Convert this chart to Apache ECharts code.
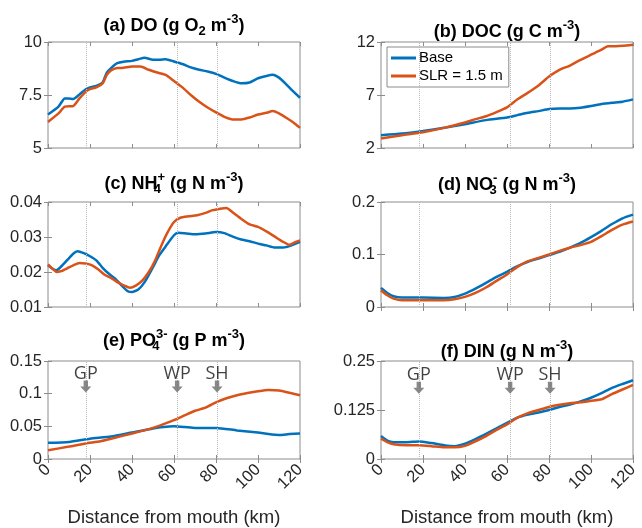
<!DOCTYPE html>
<html>
<head>
<meta charset="utf-8">
<script src="https://cdn.jsdelivr.net/npm/echarts@6/dist/echarts.min.js"></script>
<style>html,body{margin:0;padding:0;background:#fff}#c{width:642px;height:528px}</style>
</head>
<body>
<div id="c"></div>
<script>
// ---------- DATA ----------
const xTicks = [0, 20, 40, 60, 80, 100, 120];
const stationNames = ['GP', 'WP', 'SH'];
const stationKm = [18, 61.5, 80.5];

const doBaseX = [0,5,8,10,12,15,18,20,23,26,28,30,33,36,40,43,46,50,53,56,60,64,68,72,76,80,84,88,92,96,100,104,107,110,113,116,120];
const doBase  = [6.58,6.95,7.34,7.33,7.31,7.53,7.77,7.86,7.93,8.09,8.56,8.77,9.0,9.07,9.11,9.19,9.26,9.16,9.16,9.19,9.08,8.96,8.80,8.69,8.61,8.50,8.32,8.16,8.05,8.09,8.29,8.40,8.45,8.32,8.05,7.74,7.37];
const doSlrX  = [0,5,8,12,15,18,20,23,26,28,30,33,36,40,44,48,52,56,60,64,68,72,76,80,84,88,92,96,100,104,107,110,114,117,120];
const doSlr   = [6.23,6.63,6.95,6.98,7.34,7.66,7.78,7.86,8.05,8.45,8.66,8.77,8.78,8.84,8.84,8.69,8.56,8.45,8.16,7.86,7.5,7.18,6.91,6.68,6.47,6.35,6.35,6.44,6.58,6.66,6.74,6.63,6.39,6.19,5.95];

const docBaseX = [0,10,20,30,40,50,60,65,70,75,80,85,90,95,100,105,110,115,120];
const docBase  = [3.2,3.36,3.61,3.9,4.25,4.63,4.88,5.1,5.32,5.48,5.67,5.73,5.73,5.8,5.96,6.15,6.27,6.37,6.59];
const docSlrX  = [0,10,20,30,40,45,50,55,60,65,70,75,80,85,90,95,100,105,108,110,115,120];
const docSlr   = [2.89,3.2,3.49,3.9,4.41,4.72,5.0,5.39,5.83,6.59,7.22,7.89,8.74,9.37,9.78,10.32,10.8,11.27,11.59,11.59,11.65,11.75];

const nh4BaseX = [0,2,4,6,9,12,14,17,20,23,26,29,32,35,38,40,43,46,50,53,56,60,62,66,70,75,80,84,88,92,96,100,104,108,112,116,120];
const nh4Base  = [0.0219,0.0210,0.0205,0.0214,0.0233,0.0252,0.0259,0.0254,0.0245,0.0233,0.0212,0.0195,0.0181,0.0162,0.0145,0.0143,0.0150,0.0171,0.0214,0.0248,0.0273,0.0305,0.0312,0.0310,0.0308,0.0310,0.0314,0.0311,0.0301,0.0293,0.0288,0.0281,0.0276,0.0270,0.0270,0.0276,0.0286];
const nh4SlrX  = [0,2,4,6,9,12,15,18,21,24,27,30,33,36,39,42,45,48,51,54,57,60,63,67,71,75,78,82,85,88,92,96,100,104,108,112,115,118,120];
const nh4Slr   = [0.0222,0.0210,0.0200,0.0202,0.0210,0.0219,0.0226,0.0224,0.0219,0.0207,0.0192,0.0183,0.0171,0.0162,0.0155,0.0162,0.0176,0.0200,0.0233,0.0276,0.0314,0.0343,0.0355,0.0359,0.0362,0.0369,0.0376,0.0381,0.0383,0.0370,0.0352,0.0336,0.0329,0.0316,0.0301,0.0286,0.0278,0.0286,0.0290];

const no3X    = [0,3,6,10,20,30,35,40,45,50,55,60,65,70,75,80,85,90,95,100,105,110,115,120];
const no3Base = [0.0364,0.0268,0.0204,0.0179,0.0179,0.0173,0.0192,0.0256,0.0351,0.046,0.0575,0.067,0.0777,0.086,0.0923,0.0987,0.105,0.113,0.122,0.133,0.145,0.158,0.169,0.176];
const no3Slr  = [0.032,0.0224,0.016,0.0128,0.0128,0.0128,0.0147,0.0192,0.0268,0.0371,0.0498,0.062,0.0764,0.0872,0.0936,0.1,0.107,0.113,0.118,0.124,0.135,0.147,0.157,0.163];

const po4BaseX = [0,10,20,30,40,50,55,60,65,70,80,90,100,105,110,115,120];
const po4Base  = [0.0248,0.0262,0.031,0.0343,0.0405,0.0467,0.049,0.05,0.049,0.0476,0.0476,0.0438,0.0405,0.0381,0.0367,0.0381,0.039];
const po4SlrX  = [0,10,18,25,30,40,50,55,60,65,70,75,80,85,90,95,100,105,110,115,120];
const po4Slr   = [0.0133,0.019,0.0238,0.0271,0.031,0.039,0.0476,0.0533,0.0595,0.0667,0.0738,0.0786,0.0867,0.0929,0.0976,0.101,0.1038,0.1057,0.1048,0.1014,0.0976];

const dinX    = [0,3,6,12,18,24,30,35,40,45,50,55,60,65,70,75,80,85,90,95,100,105,110,115,120];
const dinBase = [0.0586,0.0469,0.043,0.043,0.0445,0.0406,0.0352,0.0328,0.039,0.0508,0.0641,0.0781,0.0922,0.1055,0.1133,0.1188,0.125,0.1328,0.139,0.1469,0.1563,0.168,0.1813,0.1914,0.2008];
const dinSlr  = [0.0523,0.043,0.0375,0.0352,0.0352,0.0328,0.0297,0.0297,0.0336,0.0453,0.0586,0.0742,0.0883,0.1055,0.1172,0.125,0.1328,0.1383,0.1422,0.1445,0.1484,0.1523,0.1656,0.1773,0.1891];

// y-axis ranges [min, max, interval]
const yDO  = [5, 10, 2.5];
const yDOC = [2, 12, 5];
const yNH4 = [0.01, 0.04, 0.01];
const yNO3 = [0, 0.2, 0.1];
const yPO4 = [0, 0.15, 0.05];
const yDIN = [0, 0.25, 0.125];

const legendNames = ['Base', 'SLR = 1.5 m'];
const xName = 'Distance from mouth (km)';

// ---------- LAYOUT / STYLE ----------
const FONT = '"Liberation Sans", Arial, Helvetica, sans-serif';
const AX = '#8c8c8c';
const C_BASE = '#0072BD', C_SLR = '#D95319';
const zip = (xs, ys) => xs.map((x, i) => [x, ys[i]]);

const panels = [
  { g: {left: 48,  top: 42,  width: 252, height: 106}, y: yDO,  b: zip(doBaseX, doBase),   s: zip(doSlrX, doSlr),   bottom: false,
    title: '{b|(a) DO (g O}{sub|2}{b| m}{sup|-3}{b|)}', tTop: 13 },
  { g: {left: 381, top: 42,  width: 252, height: 106}, y: yDOC, b: zip(docBaseX, docBase), s: zip(docSlrX, docSlr), bottom: false,
    title: '{b|(b) DOC (g C m}{sup|-3}{b|)}', tTop: 19 },
  { g: {left: 48,  top: 202, width: 252, height: 105}, y: yNH4, b: zip(nh4BaseX, nh4Base), s: zip(nh4SlrX, nh4Slr), bottom: false,
    title: '{b|(c) NH}{subz|4}{sup|+}{b| (g N m}{sup|-3}{b|)}', tTop: 171 },
  { g: {left: 381, top: 202, width: 252, height: 105}, y: yNO3, b: zip(no3X, no3Base),     s: zip(no3X, no3Slr),     bottom: false,
    title: '{b|(d) NO}{subz|3}{sup|-}{b| (g N m}{sup|-3}{b|)}', tTop: 172 },
  { g: {left: 48,  top: 361, width: 252, height: 106}, y: yPO4, b: zip(po4BaseX, po4Base), s: zip(po4SlrX, po4Slr), bottom: true,
    title: '{b|(e) PO}{subz|4}{sup|3-}{b| (g P m}{sup|-3}{b|)}', tTop: 328, arrowY: 0.111 },
  { g: {left: 381, top: 361, width: 252, height: 106}, y: yDIN, b: zip(dinX, dinBase),     s: zip(dinX, dinSlr),     bottom: true,
    title: '{b|(f) DIN (g N m}{sup|-3}{b|)}', tTop: 339, arrowY: 0.182 }
];

const richTitle = {
  b:    { fontSize: 18, fontWeight: 'bold', color: '#000', fontFamily: FONT },
  sup:  { fontSize: 13, fontWeight: 'bold', color: '#000', fontFamily: FONT, padding: [0, 0, 13, 0] },
  sub:  { fontSize: 13, fontWeight: 'bold', color: '#000', fontFamily: FONT, padding: [11, 0, 0, 0] },
  subz: { fontSize: 13, fontWeight: 'bold', color: '#000', fontFamily: FONT, padding: [11, 0, 0, 0], width: 0.01 }
};

const grid = [], xAxis = [], yAxis = [], series = [], title = [];
const arrowPath = 'path://M3,0 L7,0 L7,6 L10,6 L5,12 L0,6 L3,6 Z';

panels.forEach((p, i) => {
  grid.push(Object.assign({ show: true, borderColor: AX, borderWidth: 1, containLabel: false }, p.g));
  title.push({
    text: p.title, left: p.g.left + p.g.width / 2, top: p.tTop, textAlign: 'center', padding: 0,
    textStyle: { rich: richTitle }
  });
  const tickCommon = { show: true, inside: true, length: 4, lineStyle: { color: AX } };
  xAxis.push({
    gridIndex: i, type: 'value', min: 0, max: 120, interval: 20, position: 'bottom',
    axisLine: { show: false }, axisTick: tickCommon, splitLine: { show: false },
    axisLabel: p.bottom ? { show: true, rotate: 45, fontSize: 16.5, color: '#262626', fontFamily: FONT, margin: 8 } : { show: false },
    name: p.bottom ? xName : '', nameLocation: 'middle', nameGap: 49,
    nameTextStyle: { fontSize: 18.5, color: '#262626', fontFamily: FONT }
  });
  xAxis.push({
    gridIndex: i, type: 'value', min: 0, max: 120, interval: 20, position: 'top',
    axisLine: { show: false }, axisTick: tickCommon, splitLine: { show: false }, axisLabel: { show: false }
  });
  yAxis.push({
    gridIndex: i, type: 'value', min: p.y[0], max: p.y[1], interval: p.y[2], position: 'left',
    axisLine: { show: false }, axisTick: tickCommon, splitLine: { show: false },
    axisLabel: { show: true, fontSize: 16.5, color: '#262626', fontFamily: FONT, margin: 6 }
  });
  yAxis.push({
    gridIndex: i, type: 'value', min: p.y[0], max: p.y[1], interval: p.y[2], position: 'right',
    axisLine: { show: false }, axisTick: tickCommon, splitLine: { show: false }, axisLabel: { show: false }
  });
  const xi = i * 2, yi = i * 2;
  series.push({
    type: 'line', name: 'guides', xAxisIndex: xi, yAxisIndex: yi, data: [], z: 1, silent: true,
    markLine: {
      silent: true, symbol: 'none', animation: false, label: { show: false },
      lineStyle: { type: 'dotted', color: '#b8b8b8', width: 1 },
      data: stationKm.map(v => ({ xAxis: v }))
    }
  });
  series.push({
    type: 'line', name: legendNames[0], xAxisIndex: xi, yAxisIndex: yi, data: p.b, showSymbol: false,
    smooth: 0.2, lineStyle: { color: C_BASE, width: 2.5 }, itemStyle: { color: C_BASE }, z: 3, animation: false
  });
  series.push({
    type: 'line', name: legendNames[1], xAxisIndex: xi, yAxisIndex: yi, data: p.s, showSymbol: false,
    smooth: 0.2, lineStyle: { color: C_SLR, width: 2.5 }, itemStyle: { color: C_SLR }, z: 3, animation: false
  });
  if (p.arrowY !== undefined) {
    series.push({
      type: 'scatter', name: 'stations', xAxisIndex: xi, yAxisIndex: yi, z: 5, animation: false, silent: true,
      symbol: arrowPath, symbolSize: [11, 12], itemStyle: { color: '#6a6a6a' },
      label: { show: true, position: 'top', distance: -2, formatter: '{b}', fontSize: 18, color: '#111', fontFamily: '"Open Sans", ' + FONT },
      data: stationNames.map((n, k) => ({ name: n, value: [stationKm[k], p.arrowY] }))
    });
  }
});

const chart = echarts.init(document.getElementById('c'), null, { renderer: 'canvas' });
chart.setOption({
  backgroundColor: '#fff',
  animation: false,
  title: title,
  legend: {
    data: legendNames.map(n => ({ name: n, icon: 'rect' })),
    orient: 'vertical', left: 387, top: 47, itemWidth: 25, itemHeight: 3, itemGap: 2,
    padding: [3, 6, 3, 4], backgroundColor: '#fff', borderColor: '#8c8c8c', borderWidth: 1,
    textStyle: { fontSize: 15, color: '#000', fontFamily: FONT, lineHeight: 16, padding: [0, 0, 0, -2] },
    selectedMode: false
  },
  grid: grid, xAxis: xAxis, yAxis: yAxis, series: series
});
</script>
</body>
</html>
